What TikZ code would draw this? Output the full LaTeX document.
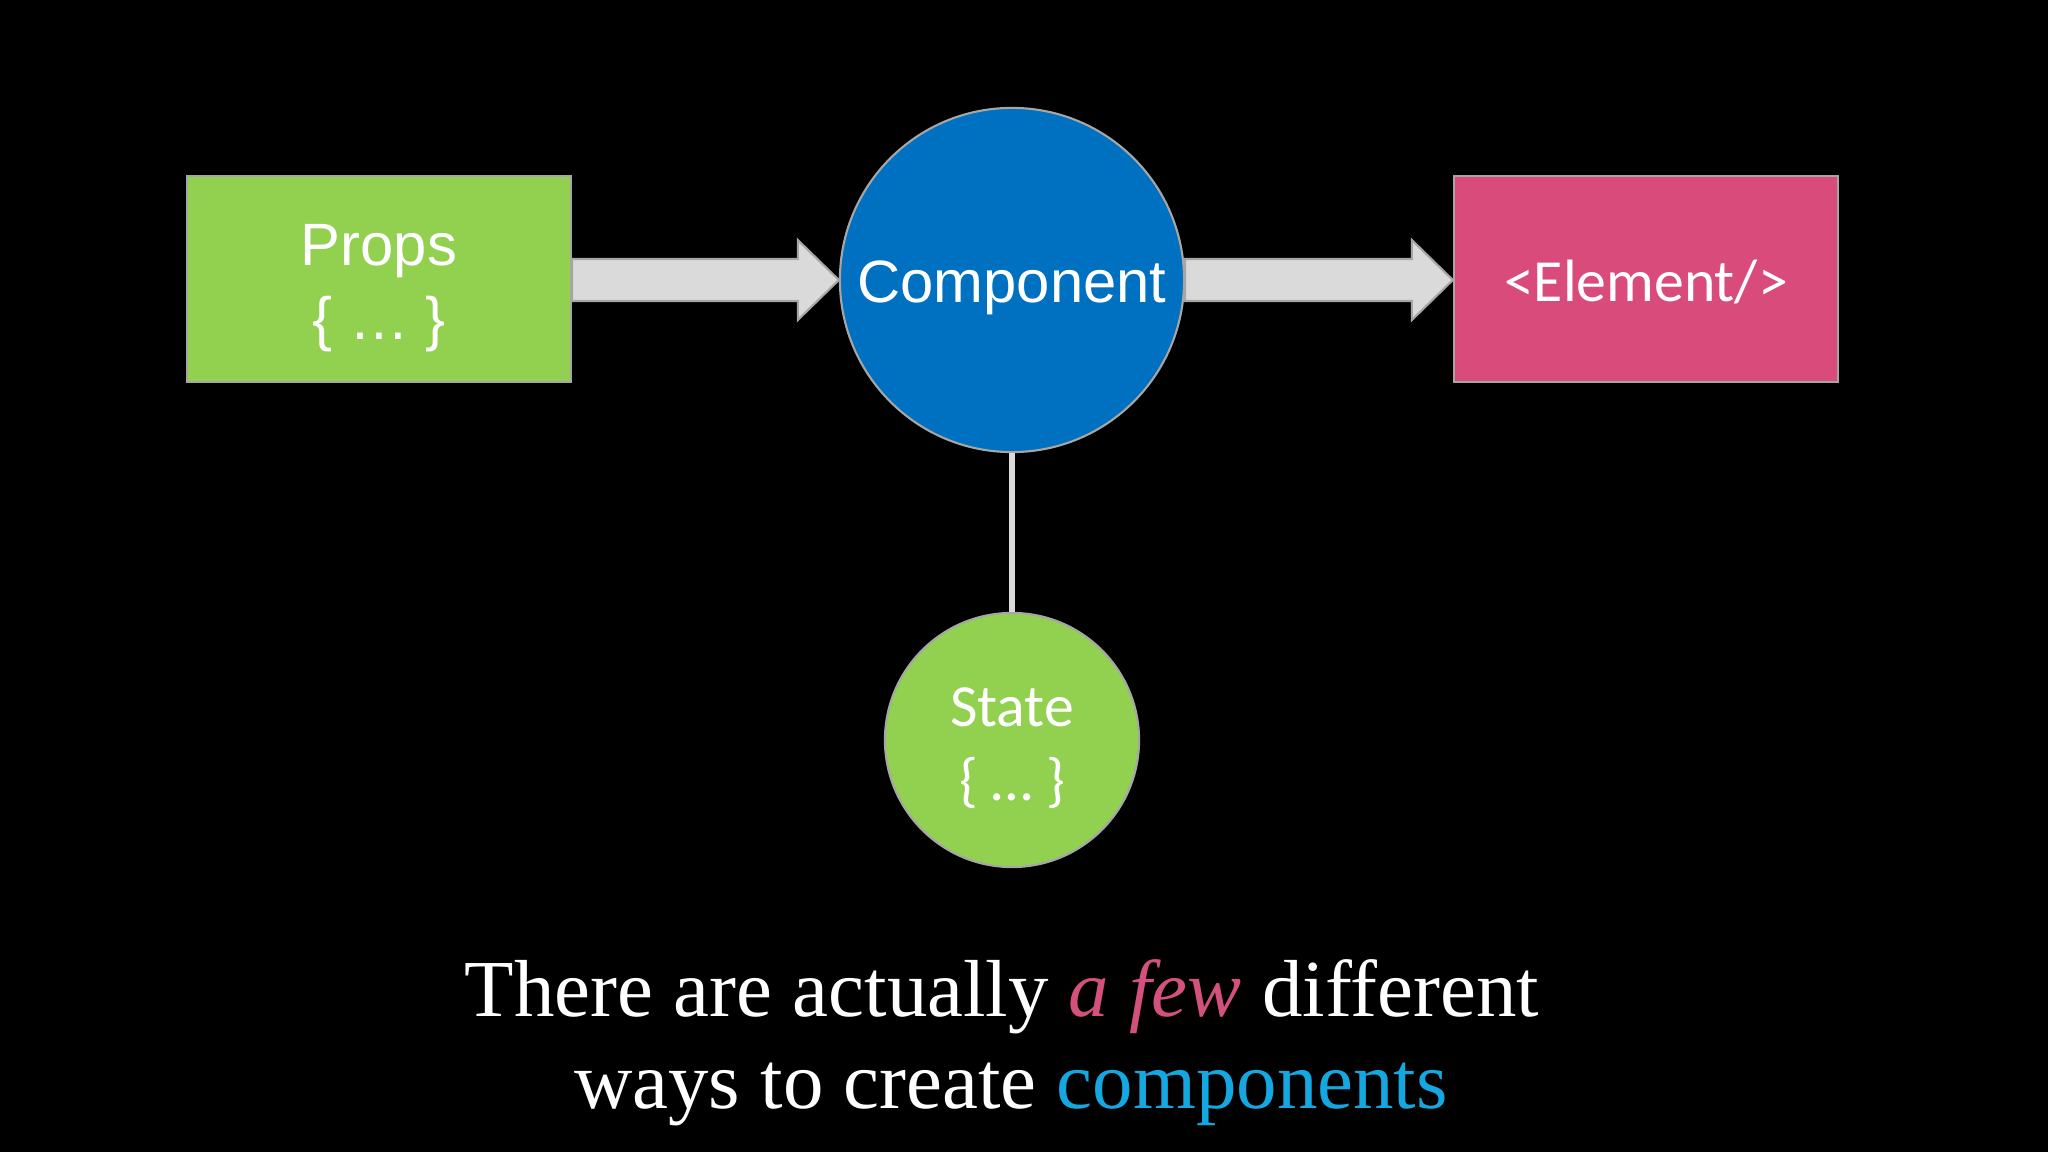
\documentclass[tikz,border=0pt]{standalone}
\usepackage{fontspec}
\setmainfont{Liberation Serif}
\newfontfamily\arialf{Liberation Sans}
\newfontfamily\calibrif{Carlito}
\usetikzlibrary{calc}
\definecolor{pgreen}{HTML}{92D050}
\definecolor{pblue}{HTML}{0070C0}
\definecolor{ppink}{HTML}{D84B7A}
\definecolor{arrgray}{HTML}{DADADA}
\definecolor{edgegray}{HTML}{A6A6A6}
\definecolor{fewpink}{HTML}{D3517F}
\definecolor{compcyan}{HTML}{15A8E0}
\tikzset{
  boxnode/.style={draw=edgegray, line width=0.6pt, rectangle, minimum width=3.84cm, minimum height=2.05cm, inner sep=0pt},
  circnode/.style={draw=edgegray, line width=0.6pt, circle, inner sep=0pt},
  labeltext/.style={text=white, align=center, inner sep=0pt},
  arialtext/.style={labeltext, font=\arialf\fontsize{17}{21}\selectfont},
  calibritext/.style={labeltext, font=\calibrif\fontsize{17}{21}\selectfont},
  blockarr/.style={fill=arrgray, draw=edgegray, line width=0.6pt, line join=miter},
  stemline/.style={draw=arrgray, line width=1.7pt},
  caption/.style={text=white, font=\fontsize{23}{26}\selectfont, anchor=base, inner sep=0pt}
}
\begin{document}
\begin{tikzpicture}[x=0.01cm,y=-0.01cm]
\fill[black] (0,0) rectangle (2048,1152);
\useasboundingbox (0,0) rectangle (2048,1152);

\node[boxnode, fill=pgreen] (props) at (379,279) {};
\node[circnode, fill=pblue, minimum size=3.44cm] (comp) at (1012,280) {};
\node[boxnode, fill=ppink] (elem) at (1646,279) {};
\node[circnode, fill=pgreen, minimum size=2.54cm] (state) at (1012,740) {};

\node[arialtext] (propstext) at ($(props.center)+(0,9)$) {Props\\\{ … \}};
\node[arialtext] (comptext) at ($(comp.center)+(0,8)$) {Component};
\node[calibritext] (elemtext) at ($(elem.center)+(0,3)$) {<Element/>};
\node[calibritext] (statetext) at ($(state.center)+(0,8)$) {State\\\{ … \}};

\draw[stemline] (comp.south) -- (state.north);

\coordinate (a1) at (props.east |- comp.west);
\coordinate (h1) at ($(comp.west)+(-41,0)$);
\draw[blockarr] ($(a1)+(0,-21)$) -- ($(h1)+(0,-21)$) -- ($(h1)+(0,-40)$) -- (comp.west)
  -- ($(h1)+(0,40)$) -- ($(h1)+(0,21)$) -- ($(a1)+(0,21)$) -- cycle;

\coordinate (t2) at (elem.west |- comp.east);
\coordinate (h2) at ($(t2)+(-41,0)$);
\draw[blockarr] ($(comp.east)+(0,-21)$) -- ($(h2)+(0,-21)$) -- ($(h2)+(0,-40)$) -- (t2)
  -- ($(h2)+(0,40)$) -- ($(h2)+(0,21)$) -- ($(comp.east)+(0,21)$) -- cycle;

\node[caption] (line1) at (1002,1016) {There are actually \textcolor{fewpink}{\itshape a few} different};
\node[caption] (line2) at (1011,1108) {ways to create \textcolor{compcyan}{components}};
\end{tikzpicture}
\end{document}
